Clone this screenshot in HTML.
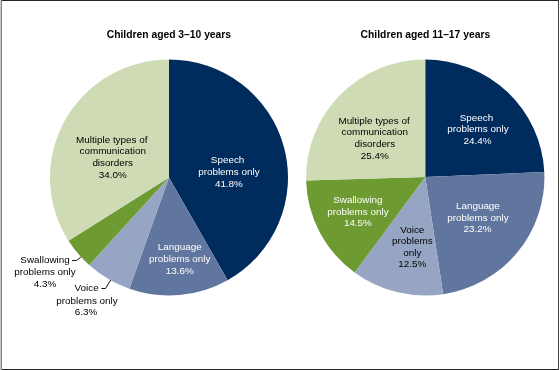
<!DOCTYPE html>
<html><head><meta charset="utf-8"><style>
html,body{margin:0;padding:0;background:#fff;width:560px;height:370px;overflow:hidden}
svg{display:block;will-change:transform}
text{font-family:"Liberation Sans",sans-serif;font-size:9.9px;text-anchor:middle}
.t{font-weight:bold;font-size:10.32px;fill:#000}
</style></head><body>
<svg width="560" height="370" viewBox="0 0 560 370">
<rect x="0" y="0" width="560" height="370" fill="#fff"/>
<path d="M169.00,177.50 L169.00,59.50 A119,118 0 0 1 227.63,280.18 Z" fill="#002B5D"/>
<path d="M169.00,177.50 L227.63,280.18 A119,118 0 0 1 129.39,288.77 Z" fill="#61769E"/>
<path d="M169.00,177.50 L129.39,288.77 A119,118 0 0 1 89.19,265.03 Z" fill="#97A5C4"/>
<path d="M169.00,177.50 L89.19,265.03 A119,118 0 0 1 68.52,240.73 Z" fill="#6D9B32"/>
<path d="M169.00,177.50 L68.52,240.73 A119,118 0 0 1 169.00,59.50 Z" fill="#CEDBB4"/>
<path d="M425.25,177.10 L425.25,59.50 A119.15,118 0 0 1 544.27,171.94 Z" fill="#002B5D"/>
<path d="M425.25,177.10 L544.27,171.94 A119.15,118 0 0 1 443.15,294.16 Z" fill="#61769E"/>
<path d="M425.25,177.10 L443.15,294.16 A119.15,118 0 0 1 354.61,272.53 Z" fill="#97A5C4"/>
<path d="M425.25,177.10 L354.61,272.53 A119.15,118 0 0 1 306.14,180.47 Z" fill="#6D9B32"/>
<path d="M425.25,177.10 L306.14,180.47 A119.15,118 0 0 1 425.25,59.50 Z" fill="#CEDBB4"/>
<text class="t" x="168.9" y="37.6">Children aged 3–10 years</text>
<text class="t" x="425.4" y="37.6">Children aged 11–17 years</text>
<text x="111.80" y="143.00" fill="#000000">Multiple types of</text>
<text x="112.70" y="154.00" fill="#000000">communication</text>
<text x="112.70" y="166.00" fill="#000000">disorders</text>
<text x="112.70" y="178.00" fill="#000000">34.0%</text>
<text x="227.60" y="163.00" fill="#ffffff">Speech</text>
<text x="228.90" y="175.00" fill="#ffffff">problems only</text>
<text x="228.90" y="187.00" fill="#ffffff">41.8%</text>
<text x="179.70" y="250.00" fill="#ffffff">Language</text>
<text x="179.70" y="262.00" fill="#ffffff">problems only</text>
<text x="179.70" y="274.00" fill="#ffffff">13.6%</text>
<text x="45.00" y="263.00" fill="#000000">Swallowing</text>
<text x="45.00" y="275.00" fill="#000000">problems only</text>
<text x="45.00" y="287.00" fill="#000000">4.3%</text>
<text x="86.60" y="291.00" fill="#000000">Voice</text>
<text x="87.00" y="303.60" fill="#000000">problems only</text>
<text x="86.10" y="315.00" fill="#000000">6.3%</text>
<text x="374.10" y="124.00" fill="#000000">Multiple types of</text>
<text x="374.80" y="135.00" fill="#000000">communication</text>
<text x="374.80" y="147.00" fill="#000000">disorders</text>
<text x="374.80" y="159.00" fill="#000000">25.4%</text>
<text x="476.40" y="121.00" fill="#ffffff">Speech</text>
<text x="477.90" y="132.00" fill="#ffffff">problems only</text>
<text x="477.60" y="144.00" fill="#ffffff">24.4%</text>
<text x="477.90" y="209.00" fill="#ffffff">Language</text>
<text x="477.90" y="221.00" fill="#ffffff">problems only</text>
<text x="477.60" y="232.40" fill="#ffffff">23.2%</text>
<text x="357.90" y="203.00" fill="#ffffff">Swallowing</text>
<text x="357.90" y="215.00" fill="#ffffff">problems only</text>
<text x="357.90" y="226.00" fill="#ffffff">14.5%</text>
<text x="412.30" y="233.00" fill="#000000">Voice</text>
<text x="412.30" y="244.00" fill="#000000">problems</text>
<text x="412.30" y="256.00" fill="#000000">only</text>
<text x="412.30" y="267.00" fill="#000000">12.5%</text>
<polyline points="72.1,260.5 76.5,260.5 80.9,257" fill="none" stroke="#111" stroke-width="1"/>
<polyline points="101.4,288.5 105.5,288.5 110.7,280" fill="none" stroke="#111" stroke-width="1"/>
<rect x="1" y="0" width="558" height="1" fill="#282828"/>
<rect x="1" y="369" width="558" height="1" fill="#282828"/>
<rect x="0" y="0" width="1" height="370" fill="#c8c8c8"/>
<rect x="1" y="0" width="1" height="370" fill="#808080"/>
<rect x="558" y="0" width="1" height="370" fill="#404040"/>
</svg>
</body></html>
